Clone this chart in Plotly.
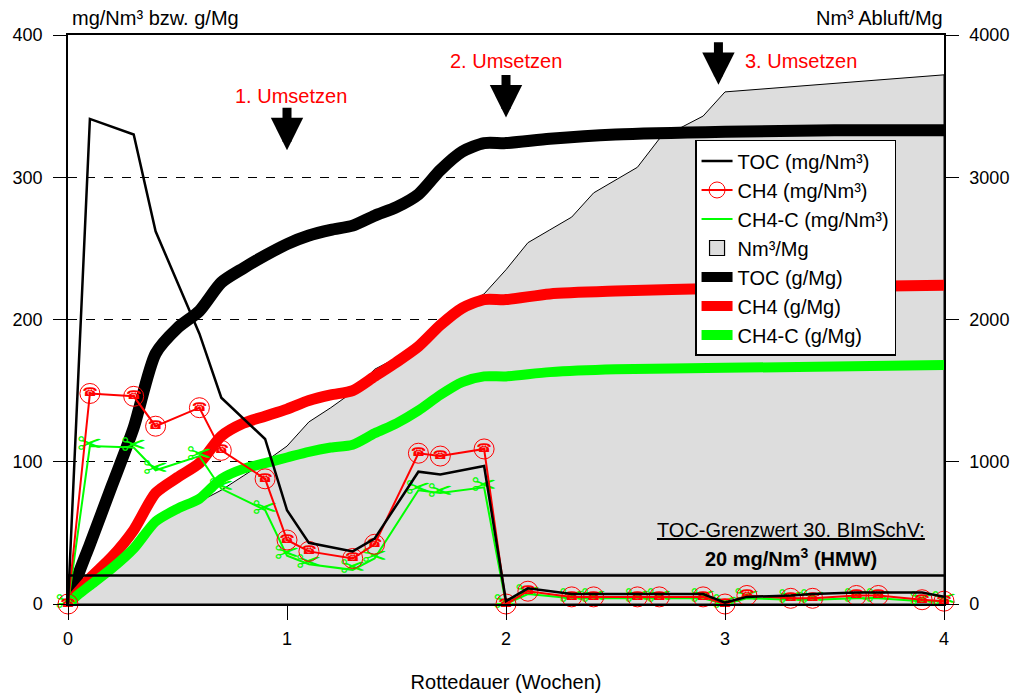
import plotly.graph_objects as go

# --- Konzentrationen im Abgas (mg/Nm³), Messzeitpunkte in Wochen ---
t_conc = [0, 0.1, 0.3, 0.4, 0.6, 0.7, 0.9, 1.0, 1.1, 1.3, 1.4, 1.6, 1.7, 1.9, 2.0,
          2.1, 2.3, 2.4, 2.6, 2.7, 2.9, 3.0, 3.1, 3.3, 3.4, 3.6, 3.7, 3.9, 4.0]
toc_conc = [0, 341, 330, 262, 190, 145, 116, 66, 43, 37, 46, 93, 91, 97, 2,
            11, 7, 7, 7, 7, 7, 1, 5, 6, 7, 8, 8, 8, 5]
ch4_conc = [0, 148, 146, 125, 138, 108, 88, 45, 37, 32, 42, 106, 104, 109, 0,
            9, 5, 5, 5, 5, 5, 0, 6, 4, 4, 6, 6, 3, 2]
ch4c_conc = [0, 111, 110, 94, 104, 81, 66, 34, 28, 24, 32, 80, 78, 82, 0,
             7, 4, 4, 4, 4, 4, 0, 4, 3, 3, 4, 4, 2, 2]

# --- Kumulierte Frachten (g/Mg) ---
t_load = [0, 0.05, 0.1, 0.2, 0.3, 0.4, 0.5, 0.6, 0.7, 0.8, 0.9, 1.0, 1.1, 1.2, 1.3,
          1.4, 1.5, 1.6, 1.7, 1.8, 1.9, 2.0, 2.2, 2.5, 3.0, 3.5, 4.0]
toc_load = [0, 22, 42, 83, 124, 176, 194, 206, 226, 236, 245, 253, 259, 263, 266,
            273, 279, 288, 305, 318, 324, 324, 327, 330, 332, 333, 333]
ch4_load = [0, 9, 18, 33, 52, 78, 89, 99, 118, 127, 132, 137, 143, 147, 150,
            160, 170, 181, 196, 208, 214, 214, 218, 220, 222, 223, 224]
ch4c_load = [0, 7, 13, 25, 39, 58, 67, 74, 88, 95, 99, 103, 107, 110, 112,
             120, 127, 136, 147, 156, 160, 160, 163, 165, 166, 167, 168]

# --- Abluftmenge (Nm³/Mg, rechte Achse) ---
t_air = [0, 0.1, 0.2, 0.3, 0.4, 0.5, 0.6, 0.7, 0.8, 0.9, 1.0, 1.1, 1.2, 1.3, 1.4,
         1.5, 1.6, 1.7, 1.8, 1.9, 2.0, 2.1, 2.2, 2.3, 2.4, 2.5, 2.6, 2.7, 2.8,
         2.9, 3.0, 3.5, 4.0]
air = [0, 120, 240, 380, 560, 640, 720, 800, 900, 1000, 1110, 1280, 1380, 1490,
       1650, 1730, 1830, 1990, 2090, 2180, 2350, 2540, 2630, 2720, 2890, 2980,
       3070, 3270, 3350, 3430, 3600, 3660, 3720]

GRENZWERT = 20
umsetzen = [("1. Umsetzen", 1.0), ("2. Umsetzen", 2.0), ("3. Umsetzen", 2.97)]

FONT = "Liberation Sans, Arial, sans-serif"
RED = "#FF0000"
GREEN = "#00FF00"
GREY = "#DDDDDD"

fig = go.Figure()

# Abluftmenge als graue Fläche (geschlossenes Polygon bis zur Nulllinie)
fig.add_trace(go.Scatter(
    x=t_air + [t_air[-1], t_air[0]], y=air + [0, 0], yaxis="y",
    mode="lines", line=dict(color="black", width=1), fill="toself",
    fillcolor=GREY, showlegend=False, hoverinfo="skip"))
# Legendensymbol für die Fläche (Kästchen)
fig.add_trace(go.Scatter(
    x=[None], y=[None], yaxis="y", name="Nm³/Mg", mode="markers", legendgroup="g4",
    marker=dict(symbol="square", size=15, color=GREY, line=dict(color="black", width=1.2)),
    legendrank=4))

# Frachten
fig.add_trace(go.Scatter(x=t_load, y=toc_load, yaxis="y2", name="TOC (g/Mg)",
                         mode="lines", legendgroup="g5",
                         line=dict(color="black", width=12, shape="spline", smoothing=0.7),
                         legendrank=5))
fig.add_trace(go.Scatter(x=t_load, y=ch4_load, yaxis="y2", name="CH4 (g/Mg)",
                         mode="lines", legendgroup="g6",
                         line=dict(color=RED, width=11, shape="spline", smoothing=0.7),
                         legendrank=6))
fig.add_trace(go.Scatter(x=t_load, y=ch4c_load, yaxis="y2", name="CH4-C (g/Mg)",
                         mode="lines", legendgroup="g7",
                         line=dict(color=GREEN, width=10, shape="spline", smoothing=0.7),
                         legendrank=7))

# Konzentrationen
fig.add_trace(go.Scatter(x=t_conc, y=ch4c_conc, yaxis="y2", name="CH4-C (mg/Nm³)",
                         mode="lines", legendgroup="g3",
                         line=dict(color=GREEN, width=2), legendrank=3))
fig.add_trace(go.Scatter(x=t_conc, y=ch4c_conc, yaxis="y2", mode="text",
                         text=["✂"] * len(t_conc),
                         textfont=dict(color=GREEN, size=30, family="DejaVu Sans"),
                         textposition="middle center", showlegend=False, cliponaxis=False,
                         hoverinfo="skip"))
fig.add_trace(go.Scatter(x=t_conc, y=ch4_conc, yaxis="y2", name="CH4 (mg/Nm³)",
                         mode="lines+markers", legendgroup="g2",
                         line=dict(color=RED, width=2),
                         marker=dict(symbol="circle-open", size=20, color=RED,
                                     line=dict(width=1, color=RED)),
                         cliponaxis=False, legendrank=2))
fig.add_trace(go.Scatter(x=t_conc, y=ch4_conc, yaxis="y2", mode="text",
                         text=["☎"] * len(t_conc),
                         textfont=dict(color=RED, size=12, family="DejaVu Sans"),
                         textposition="middle center", showlegend=False, cliponaxis=False,
                         hoverinfo="skip"))
fig.add_trace(go.Scatter(x=t_conc, y=toc_conc, yaxis="y2", name="TOC (mg/Nm³)",
                         mode="lines", legendgroup="g1",
                         line=dict(color="black", width=2.5), legendrank=1))

# Grenzwert-Linie
fig.add_shape(type="line", xref="x", yref="y2", x0=0, x1=4, y0=GRENZWERT, y1=GRENZWERT,
              line=dict(color="black", width=2.5), layer="above")

fig.add_annotation(x=3.3, y=52, xref="x", yref="y2", showarrow=False,
                   text="<u>TOC-Grenzwert 30. BImSchV:</u>",
                   font=dict(family=FONT, size=20, color="black"))
fig.add_annotation(x=3.3, y=33, xref="x", yref="y2", showarrow=False,
                   text="<b>20 mg/Nm<sup>3</sup> (HMW)</b>",
                   font=dict(family=FONT, size=20, color="black"))

# Umsetz-Termine: Pfeile und Beschriftung
arrow_tip = [319, 342, 365]
label_pos = [(1.02, 357, "center"), (2.0, 382, "center"), (3.08, 382, "left")]
for (txt, tx), tip, (lx, ly, anc) in zip(umsetzen, arrow_tip, label_pos):
    fig.add_annotation(x=tx, y=tip, xref="x", yref="y2", ax=0, ay=-44,
                       showarrow=True, arrowhead=2, arrowwidth=9, arrowsize=0.72,
                       arrowcolor="black", text="")
    fig.add_annotation(x=lx, y=ly, xref="x", yref="y2", showarrow=False, text=txt,
                       xanchor=anc, font=dict(family=FONT, size=20, color=RED))

# Achsentitel oben
fig.add_annotation(x=0.002, y=1.03, xref="paper", yref="paper", showarrow=False,
                   xanchor="left", yanchor="middle", text="mg/Nm³ bzw. g/Mg",
                   font=dict(family=FONT, size=20, color="black"))
fig.add_annotation(x=1.001, y=1.03, xref="paper", yref="paper", showarrow=False,
                   xanchor="right", yanchor="middle", text="Nm³ Abluft/Mg",
                   font=dict(family=FONT, size=20, color="black"))

fig.update_layout(
    width=1017, height=693,
    margin=dict(l=68, r=73, t=35, b=89, autoexpand=False),
    paper_bgcolor="white", plot_bgcolor="white",
    font=dict(family=FONT, size=18, color="black"),
    showlegend=True,
    legend=dict(x=0.7158, y=0.8155, xanchor="left", yanchor="top",
                bgcolor="white", bordercolor="black", borderwidth=1.5,
                font=dict(family=FONT, size=20, color="black"),
                itemwidth=31, tracegroupgap=0, traceorder="grouped"),
    xaxis=dict(range=[0, 4], tickvals=[0, 1, 2, 3, 4], ticks="outside", ticklen=14,
               tickcolor="black", showline=True, linecolor="black", linewidth=1.5,
               mirror=True, showgrid=False, zeroline=False, automargin=False,
               ticklabelstandoff=4,
               title=dict(text="Rottedauer (Wochen)", standoff=30,
                          font=dict(family=FONT, size=20))),
    # rechte Achse: Abluftmenge, liefert die gestrichelten Gitterlinien
    yaxis=dict(range=[0, 4000], tickvals=[0, 1000, 2000, 3000, 4000], side="right",
               ticks="outside", ticklen=13, tickcolor="black", showline=True,
               linecolor="black", linewidth=1.5, showgrid=True, gridcolor="black",
               griddash="dash", gridwidth=1, zeroline=False, automargin=False,
               ticklabelstandoff=7),
    # linke Achse: Konzentrationen und Frachten
    yaxis2=dict(range=[0, 400], tickvals=[0, 100, 200, 300, 400], overlaying="y",
                side="left", ticks="outside", ticklen=13, tickcolor="black",
                showline=True, linecolor="black", linewidth=1.5, showgrid=False,
                zeroline=False, automargin=False, ticklabelstandoff=7),
)

fig.write_html("out.html")
